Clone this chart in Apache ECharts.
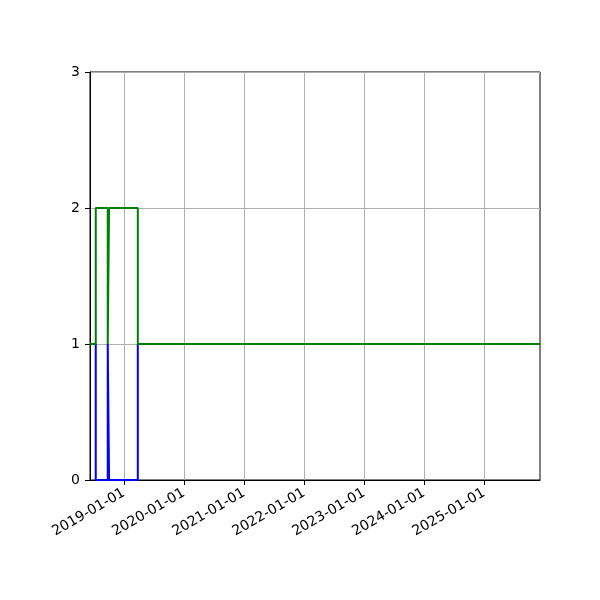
<!DOCTYPE html>
<html>
<head>
<meta charset="utf-8">
<script src="https://cdn.jsdelivr.net/npm/echarts@6/dist/echarts.min.js"></script>
<style>
  html, body { margin: 0; padding: 0; background: #fff; }
  #main { width: 600px; height: 600px; }
</style>
</head>
<body>
<div id="main"></div>
<script>
// change points of the two step lines (value holds until next date)
var dates = ['2018-06-08', '2018-07-13', '2018-09-24', '2018-10-02', '2019-03-26', '2025-12-07'];
var blueValues = [1, 0, 1, 0, 1, 1];
var greenValues = [1, 2, 1, 2, 1, 1];

var tickDates = ['2019-01-01', '2020-01-01', '2021-01-01', '2022-01-01', '2023-01-01', '2024-01-01', '2025-01-01'];
var yTicks = [0, 1, 2, 3];

var xMin = '2018-06-08';
var xMax = '2025-12-07';

// dates -> timestamps, the x axis is a plain value axis in ms
function ts(d) {
    return +echarts.time.parse(d);
}

function toPairs(values) {
    return dates.map(function (d, i) { return [ts(d), values[i]]; });
}

var tickValues = tickDates.map(ts);

var font = 'DejaVu Sans';

var option = {
    animation: false,
    grid: {
        left: 90,
        right: 60,
        top: 72,
        bottom: 120,
        show: true,
        borderColor: '#000',
        borderWidth: 1,
        backgroundColor: 'transparent'
    },
    xAxis: {
        type: 'value',
        min: ts(xMin),
        max: ts(xMax),
        axisLine: { show: true, onZero: false, lineStyle: { color: '#000', width: 1 } },
        axisTick: { show: true, length: 5, customValues: tickValues, lineStyle: { color: '#000' } },
        axisLabel: {
            customValues: tickValues,
            rotate: 30,
            margin: 12,
            color: '#000',
            fontFamily: font,
            fontSize: 14,
            formatter: function (v) { return echarts.time.format(v, '{yyyy}-{MM}-{dd}', false); }
        },
        splitLine: { show: true, lineStyle: { color: '#b0b0b0', width: 1 } }
    },
    yAxis: {
        type: 'value',
        min: yTicks[0],
        max: yTicks[yTicks.length - 1],
        interval: 1,
        axisLine: { show: true, lineStyle: { color: '#000', width: 1 } },
        axisTick: { show: true, length: 5, lineStyle: { color: '#000' } },
        axisLabel: { color: '#000', fontFamily: font, fontSize: 14, margin: 10 },
        splitLine: { show: true, lineStyle: { color: '#b0b0b0', width: 1 } }
    },
    series: [
        {
            type: 'line',
            step: 'end',
            showSymbol: false,
            data: toPairs(blueValues),
            lineStyle: { color: '#0000ff', width: 2 },
            itemStyle: { color: '#0000ff' }
        },
        {
            type: 'line',
            step: 'end',
            showSymbol: false,
            data: toPairs(greenValues),
            lineStyle: { color: '#008000', width: 2 },
            itemStyle: { color: '#008000' }
        }
    ]
};

var myChart = echarts.init(document.getElementById('main'));
myChart.setOption(option);
</script>
</body>
</html>
